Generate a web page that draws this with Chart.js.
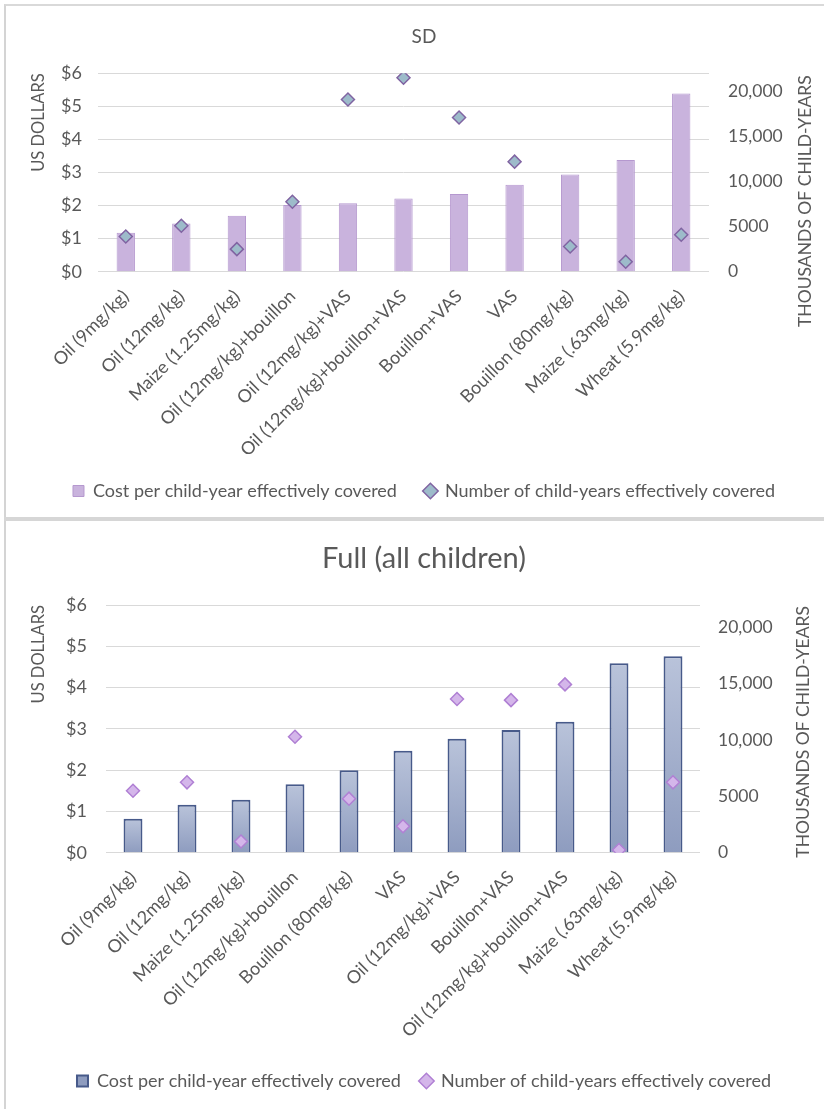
<!DOCTYPE html>
<html><head><meta charset="utf-8">
<script src="https://cdn.jsdelivr.net/npm/chart.js@4.4.1/dist/chart.umd.min.js"></script>
<style>
html,body{margin:0;padding:0;background:#fff;}
body{width:824px;height:1109px;position:relative;overflow:hidden;}
#p1{position:absolute;left:4px;top:4px;width:820px;height:513px;border-left:2px solid #d4d4d4;border-top:2px solid #d9d9d9;box-sizing:border-box;}
#sep{position:absolute;left:4px;top:517px;width:820px;height:4px;background:#d6d6d6;}
#p2{position:absolute;left:4px;top:521px;width:820px;height:588px;border-left:2px solid #d4d4d4;box-sizing:border-box;}
#c1{position:absolute;left:0;top:0;}
#c2{position:absolute;left:0;top:522px;}
</style></head>
<body>
<div id="p1"></div><div id="sep"></div><div id="p2"></div>
<canvas id="c1" width="824" height="517"></canvas>
<canvas id="c2" width="824" height="587"></canvas>
<script>
// ---- data ----
const sdCategories = ['Oil (9mg/kg)','Oil (12mg/kg)','Maize (1.25mg/kg)','Oil (12mg/kg)+bouillon','Oil (12mg/kg)+VAS','Oil (12mg/kg)+bouillon+VAS','Bouillon+VAS','VAS','Bouillon (80mg/kg)','Maize (.63mg/kg)','Wheat (5.9mg/kg)'];
const sdCost = [1.18, 1.46, 1.69, 2.02, 2.07, 2.21, 2.35, 2.63, 2.94, 3.38, 5.39];
const sdChildYears = [3900, 5100, 2500, 7750, 19100, 21500, 17100, 12200, 2800, 1100, 4100];

const fullCategories = ['Oil (9mg/kg)','Oil (12mg/kg)','Maize (1.25mg/kg)','Oil (12mg/kg)+bouillon','Bouillon (80mg/kg)','VAS','Oil (12mg/kg)+VAS','Bouillon+VAS','Oil (12mg/kg)+bouillon+VAS','Maize (.63mg/kg)','Wheat (5.9mg/kg)'];
const fullCost = [0.82, 1.16, 1.28, 1.66, 2.00, 2.47, 2.76, 2.97, 3.17, 4.59, 4.76];
const fullChildYears = [5500, 6250, 1000, 10300, 4800, 2350, 13650, 13550, 14950, 240, 6250];

const costTicks = [0, 1, 2, 3, 4, 5, 6];
const childYearTicks = [0, 5000, 10000, 15000, 20000];
const seriesNames = ['Cost per child-year effectively covered', 'Number of child-years effectively covered'];

// ---- styling ----
const TXT = '#595959';
Chart.defaults.font.family = 'Lato, "Open Sans", sans-serif';
Chart.defaults.color = TXT;

const rightTitle = {
  id: 'rightTitle',
  afterDraw(chart, args, o) {
    if (!o || !o.text) return;
    const c = chart.ctx;
    c.save();
    c.translate(o.x, chart.chartArea.top + o.dy);
    c.rotate(-Math.PI / 2);
    c.textAlign = 'right';
    c.textBaseline = 'middle';
    c.fillStyle = TXT;
    c.font = o.font;
    c.fillText(o.text, 0, 0);
    c.restore();
  }
};

function fmtChild(v) {
  return v >= 10000 ? v.toLocaleString('en-US') : String(v);
}

function makeChart(id, cfg) {
  return new Chart(document.getElementById(id), {
    data: {
      labels: cfg.labels,
      datasets: [
        {
          type: 'bar', label: seriesNames[0], data: cfg.cost, yAxisID: 'y',
          backgroundColor: cfg.barFill, borderColor: cfg.barBorder, borderWidth: cfg.barBorderWidth,
          barPercentage: cfg.barPct, categoryPercentage: 1, pointStyle: 'rect', order: 2
        },
        {
          type: 'line', label: seriesNames[1], data: cfg.childYears, yAxisID: 'y1',
          showLine: false, pointStyle: 'rectRot', pointRadius: 6.5, pointHoverRadius: 6.5,
          pointBackgroundColor: cfg.ptFill, pointBorderColor: cfg.ptBorder, pointBorderWidth: 1.5,
          backgroundColor: cfg.ptFill, borderColor: cfg.ptBorder, borderWidth: 1.5, order: 1
        }
      ]
    },
    options: {
      responsive: false,
      animation: false,
      layout: { padding: { left: cfg.padLeft, right: 0, top: 0, bottom: cfg.padBottom } },
      plugins: {
        title: {
          display: true, text: cfg.title, color: TXT,
          font: { size: cfg.titleSize, weight: 'normal' },
          padding: { top: cfg.titlePadTop, bottom: cfg.titlePadBottom }
        },
        legend: {
          position: 'bottom',
          labels: {
            usePointStyle: true, boxWidth: 11, boxHeight: 11, padding: cfg.legendPad,
            font: { size: 18 }, color: TXT,
            sort: (a, b) => a.datasetIndex - b.datasetIndex
          }
        },
        tooltip: { enabled: false },
        rightTitle: { text: 'THOUSANDS OF CHILD-YEARS', x: cfg.rtX, dy: cfg.rtDy, font: '17.5px Lato' }
      },
      scales: {
        x: {
          grid: { display: false }, border: { display: false },
          ticks: { maxRotation: 45, minRotation: 45, autoSkip: false, font: { size: 18 }, color: TXT, padding: 6 },
          afterFit: s => { s.height = cfg.xHeight; }
        },
        y: {
          position: 'left', min: 0, max: 6,
          afterBuildTicks: s => { s.ticks = costTicks.map(v => ({ value: v })); },
          ticks: { callback: v => '$' + v, font: { size: 18 }, color: TXT, padding: cfg.leftTickPad },
          grid: { color: '#D9D9D9', lineWidth: 1, drawTicks: false },
          border: { display: false },
          title: { display: true, text: 'US DOLLARS', align: 'end', color: TXT, font: { size: 16.5 }, padding: { top: cfg.ltPad, bottom: 0 } },
          afterFit: s => { s.width = cfg.leftWidth; }
        },
        y1: {
          position: 'right', min: 0, max: 22000,
          afterBuildTicks: s => { s.ticks = childYearTicks.map(v => ({ value: v })); },
          ticks: { callback: v => fmtChild(v), font: { size: 17.5 }, color: TXT, padding: cfg.rightTickPad },
          grid: { display: false, drawTicks: false },
          border: { display: false },
          afterFit: s => { s.width = cfg.rightWidth; }
        }
      }
    },
    plugins: [rightTitle]
  });
}

makeChart('c1', {
  labels: sdCategories, cost: sdCost, childYears: sdChildYears,
  title: 'SD', titleSize: 19, titlePadTop: 25.6, titlePadBottom: 24.9,
  barFill: '#C9B3DD', barBorder: '#B598CF', barBorderWidth: 1, barPct: 0.33,
  ptFill: '#9DBBCA', ptBorder: '#8064A2',
  padLeft: 24, padBottom: 7, legendPad: 28, xHeight: 182.3,
  leftWidth: 74, rightWidth: 115, leftTickPad: 16, rightTickPad: 19, ltPad: 4.6,
  rtX: 805, rtDy: 2
});

makeChart('c2', {
  labels: fullCategories, cost: fullCost, childYears: fullChildYears,
  title: 'Full (all children)', titleSize: 29, titlePadTop: 19.6, titlePadBottom: 28.6,
  barFill: (ctx) => {
    const ch = ctx.chart;
    if (!ch.chartArea || ctx.dataIndex === undefined) return '#A3AECB';
    const ys = ch.scales.y;
    const top = ys.getPixelForValue(ch.data.datasets[0].data[ctx.dataIndex]);
    const base = ys.getPixelForValue(0);
    const g = ch.ctx.createLinearGradient(0, top, 0, base);
    g.addColorStop(0, '#B9C3DA');
    g.addColorStop(1, '#8E9CBF');
    return g;
  },
  barBorder: '#475A8A', barBorderWidth: 2, barPct: 0.35,
  ptFill: '#D4B6EA', ptBorder: '#B080D4',
  padLeft: 24, padBottom: 9, legendPad: 20, xHeight: 199.3,
  leftWidth: 82, rightWidth: 124, leftTickPad: 19, rightTickPad: 18, ltPad: 5.1,
  rtX: 803, rtDy: 1
});
</script>
</body></html>
